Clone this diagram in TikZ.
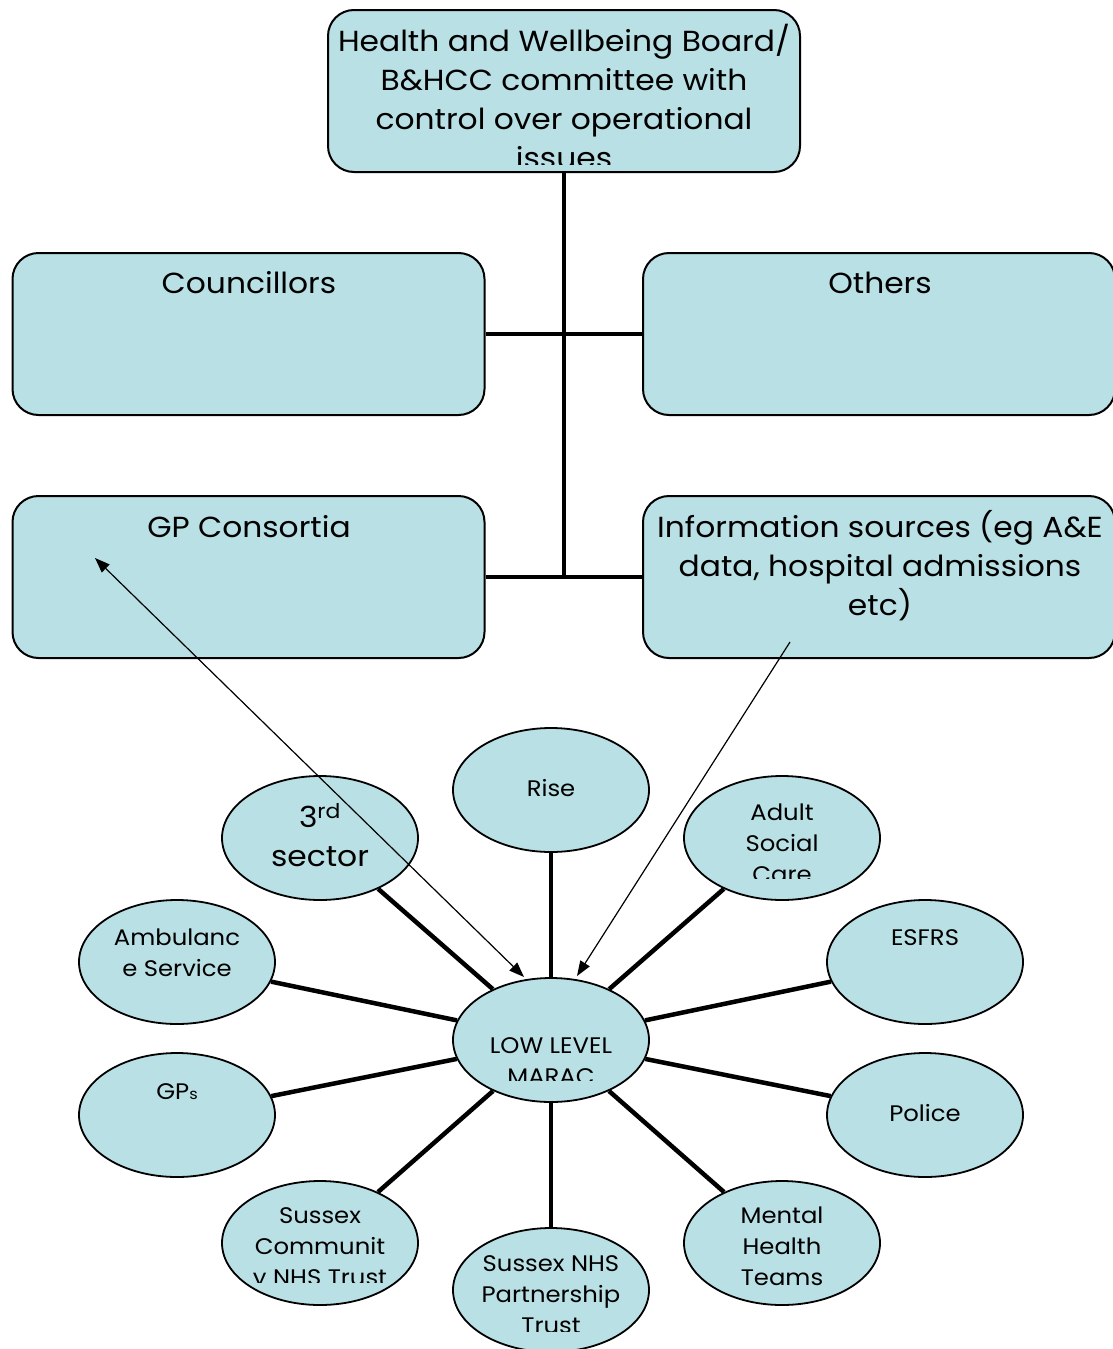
\documentclass[tikz,border=0pt]{standalone}
\usepackage{fontspec}
\setmainfont[FakeStretch=1.08]{Poppins}
\usetikzlibrary{shapes.geometric,arrows.meta}
\definecolor{boxfill}{RGB}{185,224,228}
\begin{document}
\begin{tikzpicture}[x=1pt,y=-1pt,
  rbox/.style={draw=black,line width=2pt,fill=boxfill,rounded corners=26pt,minimum width=472pt,minimum height=162pt,inner sep=0},
  oval/.style={ellipse,draw=black,line width=1.8pt,fill=boxfill,minimum width=196pt,minimum height=124pt,inner sep=0},
  bigtxt/.style={font=\fontsize{29}{39}\selectfont,align=center,inner sep=0,anchor=north},
  smalltxt/.style={font=\fontsize{22.5}{31}\selectfont,align=center,inner sep=0,anchor=north},
  link/.style={line width=4.5pt,black},
  thinarrow/.style={line width=1.2pt,black}]
\useasboundingbox (0,0) rectangle (1112,1349);
% ---- upper boxes
\node[rbox] (top) at (564,91) {};
\node[rbox] (couns) at (248.5,334) {};
\node[rbox] (others) at (879,334) {};
\node[rbox] (gpc) at (248.5,577) {};
\node[rbox] (info) at (879,577) {};
\coordinate (hub) at (564,577);
\draw[link] (top.south) -- (hub);
\draw[link] (couns.east) -- (others.west);
\draw[link] (gpc.east) -- (info.west);
\begin{scope}
\clip (330,12) rectangle (798,164);
\node[bigtxt] (toptext) at (564,24) {Health and Wellbeing Board/\\B\&HCC committee with\\control over operational\\issues};
\end{scope}
\node[bigtxt] (counstext) at (249,271) {Councillors};
\node[bigtxt] (otherstext) at (880,272) {Others};
\node[bigtxt] (gpctext) at (249,515) {GP Consortia};
\node[bigtxt] (infotext) at (880,510) {Information sources (eg A\&E\\data, hospital admissions\\etc)};
% ---- ellipses
\node[oval] (marac) at (551,1040) {};
\node[oval] (rise) at (551,790) {};
\node[oval] (third) at (320,838) {};
\node[oval] (adult) at (782,838) {};
\node[oval] (amb) at (177,962) {};
\node[oval] (esfrs) at (925,962) {};
\node[oval] (gps) at (177,1115) {};
\node[oval] (police) at (925,1115) {};
\node[oval] (sct) at (320,1243) {};
\node[oval] (snpt) at (551,1290) {};
\node[oval] (mht) at (782,1243) {};
\foreach \n in {rise,third,adult,amb,esfrs,gps,police,sct,snpt,mht}
  \draw[link] (marac) -- (\n);
% ellipse texts
\node[smalltxt] (risetext) at (551,779) {Rise};
\node[bigtxt] (thirdtext) at (320,803) {3\textsuperscript{rd}\\sector};
\begin{scope}
\clip (690,790) rectangle (875,878);
\node[smalltxt] (adulttext) at (782,804) {Adult\\Social\\Care};
\end{scope}
\node[smalltxt] (ambtext) at (177,929) {Ambulanc\\e Service};
\node[smalltxt] (esfrstext) at (925,929) {ESFRS};
\begin{scope}
\clip (460,1020) rectangle (642,1080);
\node[smalltxt] (maractext) at (551,1037) {LOW LEVEL\\MARAC};
\end{scope}
\node[smalltxt] (gpstext) at (177,1083) {GP{\fontsize{15}{15}\selectfont s}};
\node[smalltxt] (policetext) at (925,1104) {Police};
\begin{scope}
\clip (228,1190) rectangle (412,1282);
\node[smalltxt] (scttext) at (320,1207) {Sussex\\Communit\\y NHS Trust};
\end{scope}
\begin{scope}
\clip (460,1240) rectangle (642,1331);
\node[smalltxt] (snpttext) at (551,1255) {Sussex NHS\\Partnership\\Trust};
\end{scope}
\node[smalltxt] (mhttext) at (782,1207) {Mental\\Health\\Teams};
% ---- thin arrows
\coordinate (a1) at (95,558);
\coordinate (a1m) at (524,977);
\coordinate (a2) at (790,642);
\coordinate (a2m) at (577,976);
\draw[thinarrow,{Triangle[length=15pt,width=11pt]}-{Triangle[length=15pt,width=11pt]}] (a1) -- (a1m);
\draw[thinarrow,-{Triangle[length=15pt,width=11pt]}] (a2) -- (a2m);
\end{tikzpicture}
\end{document}
